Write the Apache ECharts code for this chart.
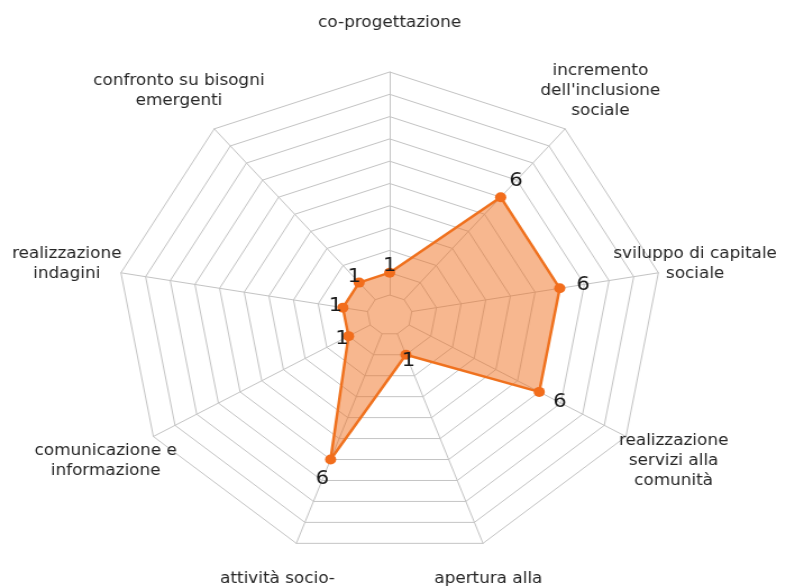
<!DOCTYPE html>
<html>
<head>
<meta charset="utf-8">
<title>Radar</title>
<script src="https://cdn.jsdelivr.net/npm/echarts@6/dist/echarts.min.js"></script>
<style>
  html, body { margin: 0; padding: 0; background: #fff; overflow: hidden; }
  /* the original picture is stretched horizontally, so the chart is too */
  #radar { width: 708px; height: 587px; transform: scaleX(1.1229); transform-origin: 0 0; }
</style>
</head>
<body>
<div id="radar"></div>
<script>
// assi del radar, in senso orario partendo dall'alto
var categorie = [
    'co-progettazione',
    "incremento\ndell'inclusione\nsociale",
    'sviluppo di capitale\nsociale',
    'realizzazione\nservizi alla\ncomunità',
    'apertura alla\ncittadinanza',
    'attività socio-\neducative',
    'comunicazione e\ninformazione',
    'realizzazione\nindagini',
    'confronto su bisogni\nemergenti'
];
var valori = [1, 6, 6, 6, 1, 6, 1, 1, 1];
var scalaMin = 0;
var scalaMax = 10;

// echarts gira in senso antiorario: primo asse fisso, gli altri al contrario
function orario(arr) {
    return [arr[0]].concat(arr.slice(1).reverse());
}

var nomiAssi = orario(categorie);
var valoriAssi = orario(valori);
// posizione delle etichette dei valori, un po' fuori dal punto
var posEtichette = valoriAssi.map(function (v) { return v * 1.13 + 0.17; });

// alcune etichette degli assi sono spostate un po' verso il centro
function sposta(name, stile) {
    return name.split('\n').map(function (r) { return '{' + stile + '|' + r + '}'; }).join('\n');
}

var myChart = echarts.init(document.getElementById('radar'));

var option = {
    backgroundColor: '#ffffff',
    textStyle: { fontFamily: 'DejaVu Sans' },
    radar: {
        center: [347, 315],
        radius: [20, 243],
        startAngle: 90,
        splitNumber: 10,
        shape: 'polygon',
        nameGap: 49,
        indicator: nomiAssi.map(function (c) {
            return { name: c, min: scalaMin, max: scalaMax };
        }),
        axisName: {
            color: '#262626',
            fontSize: 15,
            lineHeight: 20,
            align: 'center',
            verticalAlign: 'middle',
            formatter: function (name) {
                if (name.indexOf('sviluppo') === 0) return sposta(name, 's');
                if (name.indexOf('apertura') === 0) return sposta(name, 'a');
                return name;
            },
            rich: {
                s: { fontSize: 15, lineHeight: 20, color: '#262626', padding: [0, 31, 0, 0] },
                a: { fontSize: 15, lineHeight: 20, color: '#262626', padding: [0, 24, 0, 0] }
            }
        },
        axisLine: { lineStyle: { color: '#c4c4c4', width: 1 } },
        splitLine: { lineStyle: { color: '#c4c4c4', width: 1 } },
        splitArea: { show: false }
    },
    series: [
        {
            name: 'valori',
            type: 'radar',
            z: 2,
            symbol: 'circle',
            symbolSize: 10,
            itemStyle: { color: '#f26d1c' },
            lineStyle: { color: '#f0731f', width: 2.5 },
            areaStyle: { color: '#f07020', opacity: 0.5 },
            data: [{ value: valoriAssi, name: 'valori' }]
        },
        {
            name: 'etichette',
            type: 'radar',
            z: 3,
            symbol: 'circle',
            symbolSize: 2,
            silent: true,
            itemStyle: { color: 'rgba(0,0,0,0)' },
            lineStyle: { width: 0, opacity: 0 },
            label: {
                show: true,
                position: 'inside',
                fontSize: 19,
                color: '#1a1a1a',
                formatter: function (p) {
                    if (p.dimensionIndex != null) return String(valoriAssi[p.dimensionIndex]);
                    return String(Math.round((p.value - 0.17) / 1.13));
                }
            },
            data: [{ value: posEtichette, name: 'etichette' }]
        }
    ]
};

myChart.setOption(option);
</script>
</body>
</html>
